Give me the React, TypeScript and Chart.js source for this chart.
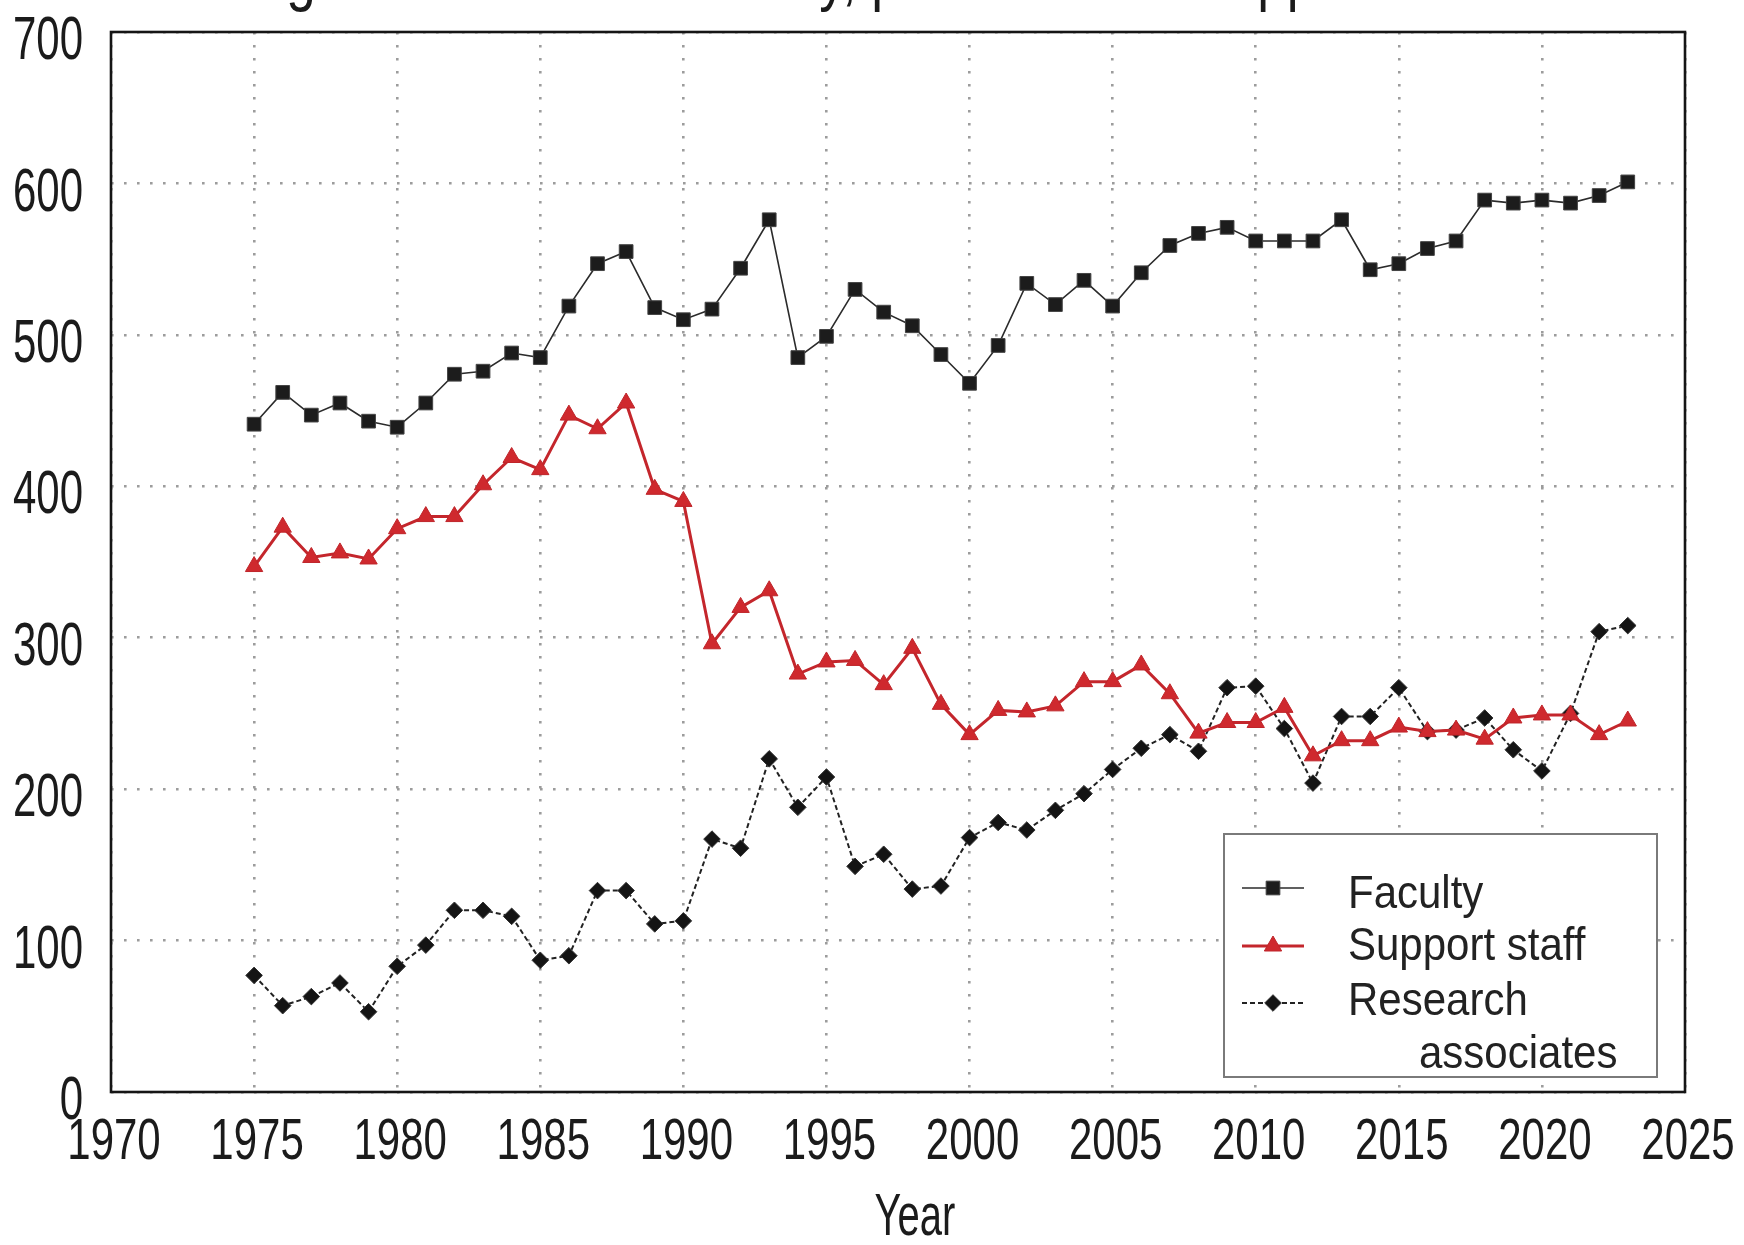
import React, { useEffect, useRef } from "react";
import { Chart, registerables } from "chart.js";

Chart.register(...registerables);

// ---------------- data ----------------
const years = [
  1975, 1976, 1977, 1978, 1979, 1980, 1981, 1982, 1983, 1984,
  1985, 1986, 1987, 1988, 1989, 1990, 1991, 1992, 1993, 1994,
  1995, 1996, 1997, 1998, 1999, 2000, 2001, 2002, 2003, 2004,
  2005, 2006, 2007, 2008, 2009, 2010, 2011, 2012, 2013, 2014,
  2015, 2016, 2017, 2018, 2019, 2020, 2021, 2022, 2023,
];

const faculty = [
  441, 462, 447, 455, 443, 439, 455, 474, 476, 488,
  485, 519, 547, 555, 518, 510, 517, 544, 576, 485,
  499, 530, 515, 506, 487, 468, 493, 534, 520, 536,
  519, 541, 559, 567, 571, 562, 562, 562, 576, 543,
  547, 557, 562, 589, 587, 589, 587, 592, 601,
];

const supportStaff = [
  347, 373, 353, 356, 352, 372, 380, 380, 401, 419,
  411, 447, 438, 455, 398, 390, 296, 320, 331, 276,
  284, 285, 269, 293, 256, 236, 252, 251, 255, 271,
  271, 282, 263, 237, 244, 244, 254, 222, 232, 232,
  241, 238, 239, 233, 247, 249, 249, 236, 245,
];

const researchAssociates = [
  77, 57, 63, 72, 53, 83, 97, 120, 120, 116,
  87, 90, 133, 133, 111, 113, 167, 161, 220, 188,
  208, 149, 157, 134, 136, 168, 178, 173, 186, 197,
  213, 227, 236, 225, 267, 268, 240, 204, 248, 248,
  267, 238, 239, 247, 226, 212, 250, 304, 308,
];

const seriesNames = ["Faculty", "Support staff", "Research associates"];
const legendLines = [["Faculty"], ["Support staff"], ["Research", "associates"]];

const xRange = [1970, 2025];
const xStep = 5;
const yRange = [0, 700];
const yStep = 100;

const chartTitle = "Fig. 3. Numbers of faculty, postdocs and support staff";
const xAxisTitle = "Year";

// ---------------- drawing helpers ----------------
const FONT = "'Liberation Sans', Arial, Helvetica, sans-serif";

function drawText(
  ctx: CanvasRenderingContext2D,
  text: string,
  x: number,
  y: number,
  size: number,
  sx: number,
  sy: number,
  align: CanvasTextAlign,
  baseline: CanvasTextBaseline,
  color: string
) {
  ctx.save();
  ctx.translate(x, y);
  ctx.scale(sx, sy);
  ctx.font = `${size}px ${FONT}`;
  ctx.textAlign = align;
  ctx.textBaseline = baseline;
  ctx.fillStyle = color;
  ctx.fillText(text, 0, 0);
  ctx.restore();
}

function drawMarker(ctx: CanvasRenderingContext2D, style: string, x: number, y: number, r: number, fill: string, stroke: string) {
  ctx.save();
  ctx.beginPath();
  if (style === "rect") {
    const s = r * Math.SQRT1_2;
    ctx.rect(x - s, y - s, 2 * s, 2 * s);
  } else if (style === "triangle") {
    let a = 0;
    ctx.moveTo(x + Math.sin(a) * r, y - Math.cos(a) * r);
    a += (2 * Math.PI) / 3;
    ctx.lineTo(x + Math.sin(a) * r, y - Math.cos(a) * r);
    a += (2 * Math.PI) / 3;
    ctx.lineTo(x + Math.sin(a) * r, y - Math.cos(a) * r);
    ctx.closePath();
  } else {
    ctx.moveTo(x - r, y);
    ctx.lineTo(x, y - r);
    ctx.lineTo(x + r, y);
    ctx.lineTo(x, y + r);
    ctx.closePath();
  }
  ctx.fillStyle = fill;
  ctx.fill();
  ctx.strokeStyle = stroke;
  ctx.lineWidth = 1;
  ctx.stroke();
  ctx.restore();
}

const decorPlugin = {
  id: "decor",
  afterDraw(chart: any) {
    const { ctx, chartArea, scales } = chart;
    const xs = scales.x;
    const ys = scales.y;
    const { left, right, top, bottom } = chartArea;

    // plot frame
    ctx.save();
    ctx.strokeStyle = "#151515";
    ctx.lineWidth = 2.6;
    ctx.strokeRect(left, top, right - left, bottom - top);
    ctx.restore();

    // y tick labels
    ys.ticks.forEach((t: any) => {
      const py = ys.getPixelForValue(t.value);
      drawText(ctx, String(t.value), left - 28, py + 10, 40, 1.05, 1.55, "right", "middle", "#1b1b1b");
    });

    // x tick labels
    xs.ticks.forEach((t: any) => {
      const px = xs.getPixelForValue(t.value);
      drawText(ctx, String(t.value), px + 3, bottom + 51, 40, 1.05, 1.42, "center", "middle", "#1b1b1b");
    });

    // x axis title
    drawText(ctx, xAxisTitle, (left + right) / 2 + 17, bottom + 127, 40, 1.0, 1.47, "center", "middle", "#1b1b1b");

    // chart title, cut off by the top edge as in the source
    drawText(ctx, chartTitle, 242, -2, 53, 1.0, 1.25, "left", "alphabetic", "#1b1b1b");

    // legend box
    const bx1 = right - 461;
    const bx2 = right - 28;
    const by1 = bottom - 258;
    const by2 = bottom - 15;
    ctx.save();
    ctx.fillStyle = "#ffffff";
    ctx.fillRect(bx1, by1, bx2 - bx1, by2 - by1);
    ctx.strokeStyle = "#7a7a7a";
    ctx.lineWidth = 2;
    ctx.strokeRect(bx1, by1, bx2 - bx1, by2 - by1);
    ctx.restore();

    const rowLineY = [54, 112, 169];
    const rowBase = [[74], [126], [181, 234]];
    const lineX1 = bx1 + 18;
    const lineX2 = bx1 + 80;
    const textX = bx1 + 124;
    const text2X = bx1 + 195;
    chart.data.datasets.forEach((ds: any, i: number) => {
      const ly = by1 + rowLineY[i];
      ctx.save();
      ctx.strokeStyle = ds.borderColor;
      ctx.lineWidth = ds.borderWidth;
      ctx.setLineDash(ds.borderDash || []);
      ctx.beginPath();
      ctx.moveTo(lineX1, ly);
      ctx.lineTo(lineX2, ly);
      ctx.stroke();
      ctx.restore();
      drawMarker(ctx, ds.pointStyle, (lineX1 + lineX2) / 2, ly, ds.pointRadius, ds.pointBackgroundColor, ds.pointBorderColor);
      legendLines[i].forEach((line, j) => {
        drawText(ctx, line, j === 0 ? textX : text2X, by1 + rowBase[i][j], 40, 1.05, 1.17, "left", "alphabetic", "#222222");
      });
    });
  },
};

export default function App() {
  const canvasRef = useRef<HTMLCanvasElement | null>(null);

  useEffect(() => {
    if (!canvasRef.current) return;
    const toPoints = (vals: number[]) => years.map((y, i) => ({ x: y, y: vals[i] }));
    const chart = new Chart(canvasRef.current, {
      type: "line",
      data: {
        datasets: [
          {
            label: seriesNames[0],
            data: toPoints(faculty),
            borderColor: "#2b2b2b",
            borderWidth: 1.6,
            pointStyle: "rect",
            pointRadius: 9.7,
            pointBackgroundColor: "#1c1c1c",
            pointBorderColor: "#444444",
            pointBorderWidth: 1,
            tension: 0,
          },
          {
            label: seriesNames[1],
            data: toPoints(supportStaff),
            borderColor: "#c4262c",
            borderWidth: 3,
            pointStyle: "triangle",
            pointRadius: 10,
            pointBackgroundColor: "#cf292e",
            pointBorderColor: "#bf252a",
            pointBorderWidth: 1,
            tension: 0,
          },
          {
            label: seriesNames[2],
            data: toPoints(researchAssociates),
            borderColor: "#222222",
            borderWidth: 2,
            borderDash: [5, 3],
            pointStyle: "rectRot",
            pointRadius: 8.3,
            pointBackgroundColor: "#141414",
            pointBorderColor: "#333333",
            pointBorderWidth: 1,
            tension: 0,
          },
        ] as any,
      },
      options: {
        animation: false,
        responsive: true,
        maintainAspectRatio: false,
        events: [],
        layout: { padding: { left: 111, right: 59, top: 32, bottom: 153 } },
        plugins: {
          legend: { display: false },
          tooltip: { enabled: false },
          title: { display: false },
        },
        scales: {
          x: {
            type: "linear",
            min: xRange[0],
            max: xRange[1],
            ticks: { display: false, stepSize: xStep },
            grid: { color: "#9c9c9c", lineWidth: 2.6, drawTicks: false },
            border: { display: false, dash: [2.6, 10.4] },
          },
          y: {
            type: "linear",
            min: yRange[0],
            max: yRange[1],
            ticks: { display: false, stepSize: yStep },
            grid: { color: "#9c9c9c", lineWidth: 2.6, drawTicks: false },
            border: { display: false, dash: [2.6, 10.4] },
          },
        },
      },
      plugins: [decorPlugin],
    });
    return () => chart.destroy();
  }, []);

  return (
    <div
      style={{
        position: "fixed",
        left: 0,
        top: 0,
        width: 1744,
        height: 1245,
        background: "#ffffff",
      }}
    >
      <canvas ref={canvasRef} />
    </div>
  );
}
